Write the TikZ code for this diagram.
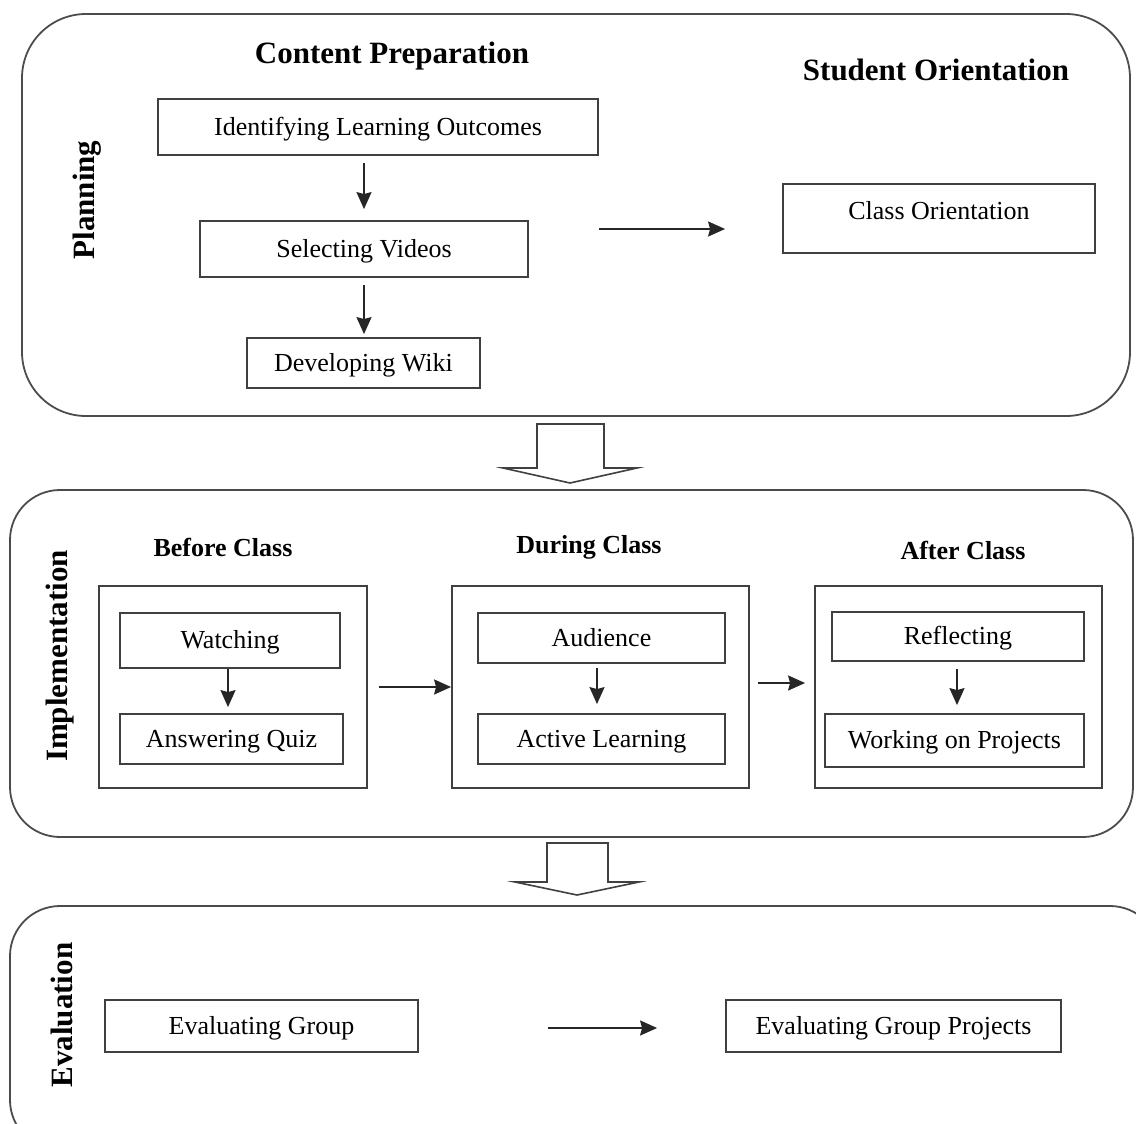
\documentclass[tikz,border=0pt]{standalone}
\usepackage{fontspec}
\setmainfont{Liberation Serif}
\usepackage{tikz}
\usetikzlibrary{calc, positioning, arrows.meta}

\tikzset{
  phase/.style={draw=black!70, line width=0.9pt, rounded corners=25pt},
  box/.style={draw=black!75, line width=0.9pt, inner sep=0pt, text height=9.5pt, text depth=1.5pt, font=\fontsize{13}{15}\selectfont},
  head/.style={font=\fontsize{15.5}{18}\selectfont\bfseries},
  subhead/.style={font=\fontsize{13}{15}\selectfont\bfseries},
  side/.style={rotate=90, font=\fontsize{15.5}{18}\selectfont\bfseries},
  link/.style={-{Stealth[length=8.5pt, width=7.5pt, inset=1pt]}, line width=1pt, draw=black!85},
  fatarrow/.style={draw=black!75, line width=0.8pt, fill=white},
}

\begin{document}
\begin{tikzpicture}[x=0.5pt, y=-0.5pt]
        \useasboundingbox (0,0) rectangle (1136,1124);
        \clip (0,0) rectangle (1136,1124);

        % planning
        \draw[phase, rounded corners=32pt] (22,14) rectangle (1130,416);
        \node[side] (pl) at (87,200) {Planning};
        \node[head] (cp) at (392,56) {Content Preparation};
        \node[head] (so) at (936,70) {Student Orientation};

        \node[box, minimum width=220pt, minimum height=28pt] (ilo) at (378,127) {Identifying Learning Outcomes};
        \node[box, minimum width=164pt, minimum height=28pt] (sv) at (364,249) {Selecting Videos};
        \node[box, minimum width=116.5pt, minimum height=25pt] (dw) at (363.5,363) {Developing Wiki};
        \node[box, minimum width=156pt, minimum height=34.5pt, text height=9.5pt, text depth=8.5pt] (co) at (939,218.5) {Class Orientation};

        \draw[link, shorten <=3.5pt, shorten >=5.5pt] (ilo.south -| sv.north) -- (sv.north);
        \draw[link, shorten <=3.5pt, shorten >=1.5pt] (sv.south) -- (sv.south |- dw.north);
        \draw[link, shorten >=28.5pt] (ilo.east |- 0,229) -- (co.west |- 0,229);

        \draw[fatarrow] (537,424) -- (604,424) -- (604,468) -- (637,468) -- (570,483) -- (503,468) -- (537,468) -- cycle;

        % implementation
        \draw[phase] (10,490) rectangle (1133,837);
        \node[side] (im) at (60,656) {Implementation};
        \node[subhead] (bch) at (223,547) {Before Class};
        \node[subhead] (dch) at (589,547) {During Class};
        \node[subhead] (ach) at (963,550) {After Class};

        \node[box, minimum width=134pt, minimum height=101pt] (bc) at (233,687) {};
        \node[box, minimum width=148.5pt, minimum height=101pt] (dc) at (600.5,687) {};
        \node[box, minimum width=143.5pt, minimum height=101pt] (ac) at (958.5,687) {};

        \node[box, minimum width=110pt, minimum height=27.5pt] (wa) at (230,640.5) {Watching};
        \node[box, minimum width=111.5pt, minimum height=25pt] (aq) at (231.5,739) {Answering Quiz};
        \node[box, minimum width=123.5pt, minimum height=25pt] (au) at (601.5,638) {Audience};
        \node[box, minimum width=123.5pt, minimum height=25pt] (al) at (601.5,739) {Active Learning};
        \node[box, minimum width=126pt, minimum height=24.5pt] (re) at (958,636.5) {Reflecting};
        \node[box, minimum width=129.5pt, minimum height=26.5pt] (wp) at (954.5,740.5) {Working on Projects};

        \draw[link, shorten >=3pt] (wa.south -| 228,0) -- (aq.north -| 228,0);
        \draw[link, shorten <=2pt, shorten >=4.5pt] (au.south -| 597,0) -- (al.north -| 597,0);
        \draw[link, shorten <=3.5pt, shorten >=4pt] (re.south -| 957,0) -- (wp.north -| 957,0);

        \draw[link, shorten <=5.5pt] (bc.east) -- (dc.west);
        \draw[link, shorten <=4pt, shorten >=4.5pt] (dc.east |- 0,683) -- (ac.west |- 0,683);

        \draw[fatarrow] (547,843) -- (608,843) -- (608,882) -- (639,882) -- (577,895) -- (515,882) -- (547,882) -- cycle;

        % evaluation
        \draw[phase] (10,906) rectangle (1160,1150);
        \node[side] (ev) at (62,1015) {Evaluation};
        \node[box, minimum width=156.5pt, minimum height=26pt] (eg) at (261.5,1026) {Evaluating Group};
        \node[box, minimum width=167.5pt, minimum height=26pt] (egp) at (893.5,1026) {Evaluating Group Projects};
        \draw[link, shorten <=64.5pt, shorten >=34pt] (eg.east |- 0,1028) -- (egp.west |- 0,1028);
\end{tikzpicture}
\end{document}
